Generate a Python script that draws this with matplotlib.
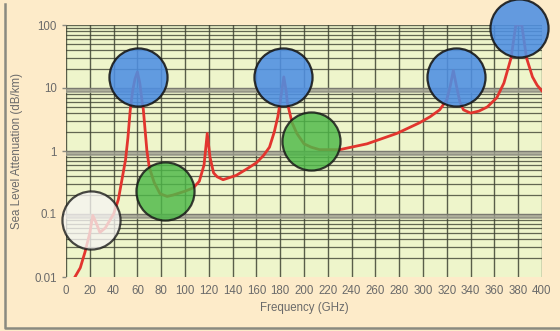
import matplotlib
matplotlib.use("Agg")
import matplotlib.pyplot as plt
from matplotlib.lines import Line2D
import numpy as np

plt.rcParams['font.family'] = ['Liberation Sans', 'DejaVu Sans']

# curve (frequency GHz, attenuation dB/km)
freq = [7.5, 12, 16, 20, 22.5, 25, 28.5, 33, 40, 44, 47, 50, 52, 54, 56, 58, 60, 62, 64, 65,
        68, 70, 74, 79, 85, 90, 100, 107, 112, 116, 118.7, 121, 124, 127, 132, 143, 152, 160,
        166, 171, 175, 178, 180, 183, 185, 186, 190, 194, 200, 206, 213, 230, 253, 278, 297,
        306, 314, 320, 323, 325.5, 328, 331, 334, 340, 347, 354, 362, 368, 374, 378, 383, 387,
        392, 396, 400]
atten = [0.01, 0.014, 0.025, 0.05, 0.095, 0.075, 0.051, 0.06, 0.1, 0.17, 0.35, 0.72, 1.6, 4.5,
         9, 14, 18, 12, 6, 4.5, 1.0, 0.55, 0.32, 0.21, 0.19, 0.2, 0.23, 0.26, 0.33, 0.6, 1.9,
         0.8, 0.45, 0.39, 0.35, 0.41, 0.52, 0.65, 0.85, 1.15, 2.0, 3.5, 6, 15, 9, 5.8, 2.8,
         1.9, 1.3, 1.15, 1.05, 1.05, 1.3, 1.9, 2.8, 3.5, 4.5, 6.5, 11, 19, 11, 6, 4.5, 4.0,
         4.3, 5, 7, 12, 30, 100, 100, 30, 15, 11, 9]

# highlight circles
blue_x = [60.5, 182, 328, 381]
blue_y = [15, 15, 15, 90]
green_x = [83, 206]
green_y = [0.23, 1.45]
white_x = [21]
white_y = [0.08]

xticks = list(range(0, 401, 20))
yticks = [0.01, 0.1, 1, 10, 100]
ylabels = ['0.01', '0.1', '1', '10', '100']

W, H = 560, 331
fig = plt.figure(figsize=(W / 100, H / 100), dpi=100)
fig.patch.set_facecolor('#FDEBC9')

# frame border (left and bottom edges)
fig.add_artist(Line2D([5 / W, 5 / W, 1.0], [1 - 4 / H, 3 / H, 3 / H], transform=fig.transFigure,
                      color='#8a8a80', lw=1.8))

ax = fig.add_axes([66 / W, 1 - 277 / H, (542 - 66) / W, (277 - 25) / H])
ax.set_facecolor('#EEF5CB')
ax.set_yscale('log')
ax.set_xlim(0, 400)
ax.set_ylim(0.01, 100)

gridc = '#3f4334'
for x in xticks:
    ax.axvline(x, color=gridc, lw=1.0, alpha=0.85, zorder=1)
for d in [0.01, 0.1, 1, 10]:
    for m in range(2, 10):
        ax.axhline(d * m, color=gridc, lw=0.9, alpha=0.8, zorder=1)
for d in [0.1, 1, 10]:
    ax.axhspan(d / 1.2, d, color='#a3a394', alpha=0.8, lw=0, zorder=1)
    ax.axhline(d, color='#7a7a70', lw=1.0, zorder=1)
ax.axhline(100, color=gridc, lw=1.0, alpha=0.8, zorder=1)

ax.plot(freq, atten, color='#E2352E', lw=2.0, zorder=3)

s = 1750
ax.scatter(blue_x, blue_y, s=s, color='#4E8FE3', edgecolors='#151515', linewidths=1.6,
           alpha=0.88, zorder=5, clip_on=False)
ax.scatter(green_x, green_y, s=s, color='#4DB848', edgecolors='#151515', linewidths=1.6,
           alpha=0.82, zorder=5, clip_on=False)
ax.scatter(white_x, white_y, s=s, color='#F6F4F2', edgecolors='#151515', linewidths=1.6,
           alpha=0.78, zorder=5, clip_on=False)

ax.set_xticks(xticks)
ax.set_xticklabels([str(x) for x in xticks])
ax.set_yticks(yticks)
ax.set_yticklabels(ylabels)
ax.minorticks_off()
ax.tick_params(axis='both', colors='#8a8a80', labelcolor='#6a6a6a', labelsize=8.3,
               length=3, width=1)
ax.tick_params(axis='x', length=0, pad=6)
for sp in ax.spines.values():
    sp.set_visible(False)

ax.set_xlabel('Frequency (GHz)', fontsize=8.3, color='#6a6a6a', labelpad=3)
ax.set_ylabel('Sea Level Attenuation (dB/km)', fontsize=8.3, color='#6a6a6a', labelpad=8)

fig.savefig('out.png', dpi=100, facecolor=fig.get_facecolor())
